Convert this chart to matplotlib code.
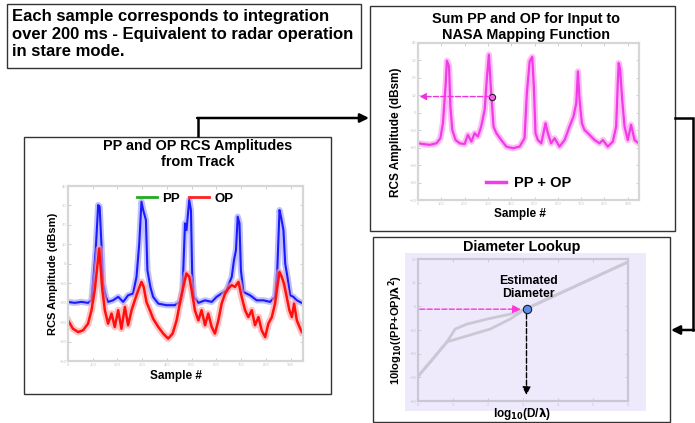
import numpy as np
import matplotlib.pyplot as plt
from matplotlib.patches import Rectangle
from matplotlib.lines import Line2D

plt.rcParams['font.family'] = ['Liberation Sans', 'DejaVu Sans']

# PP / OP amplitudes from track (sample #, dBsm)
pp_x = [0, 27, 54, 81, 95, 101, 112, 122, 128, 135, 142, 153, 162, 182, 203, 223, 243, 263,
        277, 288, 297, 304, 315, 321, 333, 344, 365, 398, 432, 452, 463, 473, 479, 490, 497,
        502, 509, 527, 554, 581, 601, 621, 641, 662, 671, 679, 686, 693, 699, 709, 736, 763,
        790, 817, 837, 846, 855, 861, 871, 878, 887, 898, 911, 925, 945]
pp_y = [-19.6, -20.1, -19.6, -20.1, -18.8, -10.2, 7.0, 30.2, 29.3, 10.4, -10.2, -17.0, -19.6,
        -18.8, -17.0, -19.6, -16.2, -15.3, -6.7, 10.4, 31.9, 27.6, 22.5, -3.3, -11.9, -17.0,
        -20.5, -21.3, -21.3, -19.6, -13.6, 20.8, 17.3, 32.8, 27.6, -5.0, -17.0, -20.1, -18.8,
        -19.6, -17.0, -15.3, -13.6, -6.7, 1.9, 7.0, 24.2, 20.8, -3.3, -14.5, -16.2, -18.8,
        -18.8, -19.6, -17.0, -3.3, 27.6, 24.2, 17.3, 0.1, -6.7, -16.2, -17.0, -18.8, -20.1]
op_x = [0, 20, 41, 61, 81, 95, 108, 117, 126, 132, 139, 149, 162, 176, 189, 203, 216, 230,
        243, 257, 270, 284, 297, 306, 317, 331, 344, 365, 385, 405, 423, 439, 452, 466, 479,
        490, 500, 513, 527, 540, 554, 567, 581, 594, 608, 621, 635, 648, 662, 675, 689, 702,
        716, 729, 743, 756, 770, 783, 797, 810, 824, 837, 846, 855, 864, 873, 884, 895, 905,
        914, 925, 936, 945]
op_y = [-29.1, -33.4, -35.1, -34.2, -30.8, -23.9, -13.6, -3.3, 7.9, -1.6, -13.6, -23.9, -30.8,
        -25.6, -32.5, -23.9, -33.4, -22.2, -31.6, -23.9, -18.8, -13.6, -9.3, -11.9, -19.6,
        -23.9, -28.2, -32.5, -35.9, -38.5, -35.9, -29.1, -20.5, -11.9, -5.0, -6.7, -13.6,
        -23.9, -29.1, -23.9, -31.6, -25.6, -32.5, -35.9, -29.1, -20.5, -15.3, -12.7, -11.0,
        -11.9, -9.3, -17.0, -23.9, -27.4, -23.9, -31.6, -27.4, -34.2, -37.7, -30.8, -27.4,
        -20.5, -11.9, -4.2, -6.7, -10.2, -17.0, -23.9, -27.4, -20.5, -29.1, -32.5, -35.1]

# PP + OP sum
sum_x = [0, 21, 50, 79, 96, 107, 119, 124, 133, 139, 147, 161, 179, 200, 214, 229, 243, 257,
         271, 286, 296, 304, 314, 324, 336, 357, 379, 407, 436, 457, 467, 479, 490, 497, 504,
         514, 529, 547, 557, 571, 586, 607, 629, 650, 667, 679, 686, 693, 703, 714, 736, 757,
         779, 793, 814, 836, 850, 857, 861, 867, 876, 886, 900, 914, 929, 947]
sum_y = [-17.5, -17.9, -18.4, -17.5, -14.6, -6.0, 17.0, 29.8, 26.6, 3.6, -9.8, -15.6, -17.5,
         -17.9, -12.7, -16.5, -11.7, -13.6, -7.9, 1.7, 20.8, 33.3, 11.3, -7.9, -11.7, -15.6,
         -19.4, -20.3, -19.4, -14.6, 11.3, 29.5, 32.0, 15.1, -11.7, -15.6, -17.5, -6.0, -11.7,
         -17.5, -14.6, -19.4, -15.6, -7.9, -2.1, 5.5, 23.7, 7.4, -6.0, -9.8, -12.7, -15.6,
         -17.5, -15.6, -19.4, -16.5, -7.9, 17.0, 28.5, 24.7, 7.4, -7.9, -15.6, -6.9, -15.6,
         -17.5]
pick_x, pick_y = 317, 9.3

# diameter lookup curve (two branches)
up_x = [0.0, 0.43, 0.83, 1.06, 1.4, 1.97, 2.63, 3.06, 6.0]
up_y = [-29.6, -22.1, -15.0, -9.6, -7.5, -5.4, -3.3, -1.25, 18.75]
lo_x = [0.0, 0.43, 0.83, 1.4, 2.06, 2.63, 3.06, 6.0]
lo_y = [-29.6, -22.1, -15.0, -12.5, -9.6, -5.4, -1.25, 18.75]
est_x, est_y = 3.1, -1.2

W, H = 695, 423
fig = plt.figure(figsize=(W / 100, H / 100), dpi=100)
ov = fig.add_axes([0, 0, 1, 1])
ov.set_xlim(0, W)
ov.set_ylim(H, 0)
ov.axis('off')


def px_axes(x0, y0, x1, y1):
    return fig.add_axes([x0 / W, 1 - y1 / H, (x1 - x0) / W, (y1 - y0) / H])


def style(ax, face='white', spine='#d6d6d6'):
    ax.set_facecolor(face)
    for s in ax.spines.values():
        s.set_color(spine)
        s.set_linewidth(1.6)
    ax.tick_params(direction='in', length=2, width=0.6, color='#c8c8c8',
                   labelsize=3, labelcolor='#c4c4c4', pad=1.2, top=True, right=True)


# boxes and connectors
ov.add_patch(Rectangle((7, 4), 354, 64, fill=False, ec='#333333', lw=1))
ov.add_patch(Rectangle((24, 137), 307, 257, fill=False, ec='#333333', lw=1))
ov.add_patch(Rectangle((370, 6), 305, 225, fill=False, ec='#333333', lw=1))
ov.add_patch(Rectangle((373, 237), 297, 185, fill=False, ec='#333333', lw=1))
ov.add_patch(Rectangle((405, 253), 241, 158, fc='#eeeafb', ec='none'))

arrow = dict(arrowstyle='-|>', lw=1.8, color='black', mutation_scale=13, shrinkA=0, shrinkB=0)
ov.plot([198, 198], [137, 118], color='black', lw=1.8, solid_capstyle='butt')
ov.annotate('', xy=(369, 118), xytext=(197.1, 118), arrowprops=arrow)
ov.plot([675, 693, 693], [118, 118, 330], color='black', lw=1.8, solid_joinstyle='miter')
ov.annotate('', xy=(671, 330), xytext=(693.9, 330), arrowprops=arrow)

ov.text(12, 34, 'Each sample corresponds to integration\nover 200 ms - Equivalent to radar operation\nin stare mode.',
        fontsize=12, fontweight='bold', va='center', ha='left', linespacing=1.22)

# titles and labels
ov.text(198, 154, 'PP and OP RCS Amplitudes\nfrom Track', fontsize=10.4, fontweight='bold',
        ha='center', va='center', linespacing=1.1)
ov.text(53, 274, 'RCS Amplitude (dBsm)', fontsize=8, fontweight='bold', rotation=90,
        ha='center', va='center')
ov.text(176, 376, 'Sample #', fontsize=8.5, fontweight='bold', ha='center', va='center')

ov.text(526, 27, 'Sum PP and OP for Input to\nNASA Mapping Function', fontsize=10.4, fontweight='bold',
        ha='center', va='center', linespacing=1.1)
ov.text(396, 132, 'RCS Amplitude (dBsm)', fontsize=8.5, fontweight='bold', rotation=90,
        ha='center', va='center')
ov.text(520, 214, 'Sample #', fontsize=8.5, fontweight='bold', ha='center', va='center')

ov.text(522, 247, 'Diameter Lookup', fontsize=10.4, fontweight='bold', ha='center', va='center')
ov.text(396, 330, r'10log$_{\mathbf{10}}$((PP+OP)/$\mathbf{\lambda^2}$)', fontsize=8,
        fontweight='bold', rotation=90, ha='center', va='center')
ov.text(522, 414, r'log$_{\mathbf{10}}$(D/$\mathbf{\lambda}$)', fontsize=8.5, fontweight='bold',
        ha='center', va='center')

# left chart: PP and OP
ax1 = px_axes(68, 186, 303, 361)
style(ax1)
ax1.plot(pp_x, pp_y, color='#8c8cff', lw=4.5, alpha=0.55)
ax1.plot(pp_x, pp_y, color='#1a1aff', lw=1.5)
ax1.plot(op_x, op_y, color='#ff9a9a', lw=5, alpha=0.6)
ax1.plot(op_x, op_y, color='#ff1010', lw=1.8)
ax1.set_xlim(0, 950)
ax1.set_ylim(-50, 40)
ax1.set_xticks(np.arange(0, 1000, 100))
ax1.set_yticks(np.arange(-50, 50, 10))
ax1.legend([Line2D([], [], color='#22aa22', lw=2), Line2D([], [], color='#ff2020', lw=2)],
           ['PP', 'OP'], loc='upper center', ncol=2, frameon=False, handlelength=1.5,
           columnspacing=0.7, handletextpad=0.4, borderaxespad=0.1,
           prop={'weight': 'bold', 'size': 9.5})

# top right chart: PP + OP
ax2 = px_axes(418, 43, 639, 200)
style(ax2)
ax2.plot(sum_x, sum_y, color='#ffa0f2', lw=4.5, alpha=0.7)
ax2.plot(sum_x, sum_y, color='#f03ce6', lw=1.6, label='PP + OP')
ax2.plot(pick_x, pick_y, 'o', ms=4.5, mfc='#ee66dd', mec='#222222', mew=0.8)
ax2.annotate('', xy=(6, pick_y), xytext=(pick_x - 8, pick_y),
             arrowprops=dict(arrowstyle='-|>', color='#ee33dd', lw=1, ls='--',
                             mutation_scale=10, shrinkA=0, shrinkB=0))
ax2.set_xlim(0, 948)
ax2.set_ylim(-50, 40)
ax2.set_xticks(np.arange(0, 1000, 100))
ax2.set_yticks(np.arange(-50, 50, 10))
leg = ax2.legend(loc='lower center', frameon=False, handlelength=1.4, handletextpad=0.55,
                 borderaxespad=0.3, prop={'weight': 'bold', 'size': 10.5})
leg.get_lines()[0].set_linewidth(2.5)

# bottom right chart: diameter lookup
ax3 = px_axes(418, 259, 628, 401)
style(ax3, face='#eeeafb', spine='#c9c6d6')
ax3.plot(up_x, up_y, color='#cac8d4', lw=2)
ax3.plot(lo_x, lo_y, color='#cac8d4', lw=2)
ax3.annotate('', xy=(est_x - 0.16, est_y), xytext=(0.05, est_y),
             arrowprops=dict(arrowstyle='-|>', color='#ff33dd', lw=1, ls='--',
                             mutation_scale=12, shrinkA=0, shrinkB=0))
ax3.annotate('', xy=(est_x, -37.5), xytext=(est_x, est_y - 2),
             arrowprops=dict(arrowstyle='-|>', color='black', lw=1, ls='--',
                             mutation_scale=12, shrinkA=0, shrinkB=0))
ax3.plot(est_x, est_y, 'o', ms=6, mfc='#5b8de8', mec='#1a1a2a', mew=0.8, zorder=5)
ax3.text(est_x + 0.05, 8, 'Estimated\nDiameter', fontsize=8.8, fontweight='bold',
         ha='center', va='center', linespacing=1.2)
ax3.set_xlim(0, 6)
ax3.set_ylim(-40, 20)
ax3.set_xticks(np.arange(0, 7, 1))
ax3.set_yticks(np.arange(-40, 30, 10))

fig.savefig('out.png', dpi=100)
